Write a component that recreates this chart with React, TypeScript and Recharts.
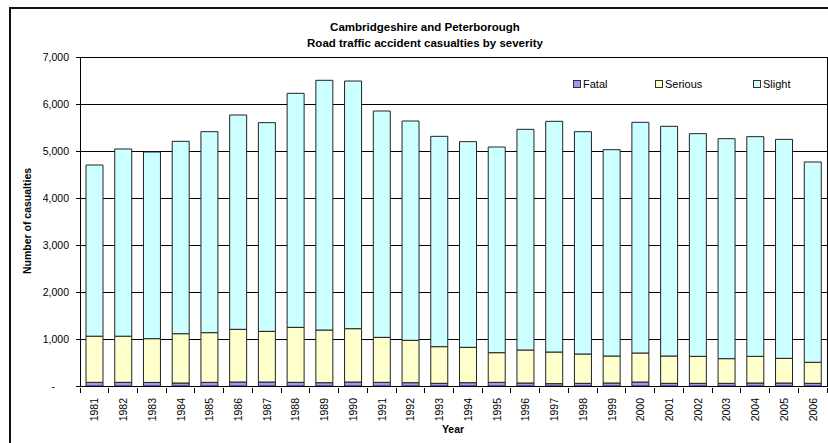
import React from 'react';
import {
  BarChart,
  Bar,
  XAxis,
  YAxis,
  CartesianGrid,
} from 'recharts';

const years = [
  '1981', '1982', '1983', '1984', '1985', '1986', '1987', '1988', '1989',
  '1990', '1991', '1992', '1993', '1994', '1995', '1996', '1997', '1998',
  '1999', '2000', '2001', '2002', '2003', '2004', '2005', '2006',
];

const fatal = [
  78, 78, 76, 64, 78, 85, 85, 78, 71, 85, 78, 71, 57, 71, 78, 64, 50, 57, 64,
  85, 57, 57, 57, 64, 64, 57,
];

const serious = [
  982, 982, 931, 1049, 1057, 1121, 1078, 1170, 1120, 1135, 957, 901, 780, 752,
  631, 702, 673, 624, 574, 617, 581, 574, 525, 567, 525, 447,
];

const slight = [
  3642, 3983, 3972, 4093, 4276, 4560, 4440, 4979, 5313, 5269, 4816, 4666, 4475,
  4376, 4376, 4695, 4908, 4730, 4390, 4908, 4887, 4738, 4680, 4674, 4659, 4262,
];

const yTicks = [0, 1000, 2000, 3000, 4000, 5000, 6000, 7000];

const seriesNames = ['Fatal', 'Serious', 'Slight'];
const seriesColors = ['#9999FF', '#FFFFCC', '#CCFFFF'];

const titleLines = [
  'Cambridgeshire and Peterborough',
  'Road traffic accident casualties by severity',
];

const rows = years.map((year, i) => ({
  year,
  Fatal: fatal[i],
  Serious: serious[i],
  Slight: slight[i],
}));

const FONT = "Arial, 'Liberation Sans', sans-serif";
const W = 828;
const H = 443;
const PLOT_LEFT = 80;
const PLOT_TOP = 57;
const PLOT_RIGHT = 827;
const PLOT_BOTTOM = 386;
const BAND = (PLOT_RIGHT - PLOT_LEFT) / years.length;

function YTick(props: any) {
  const { x, y, payload } = props;
  const v = payload.value as number;
  const label = v === 0 ? '-' : v.toLocaleString('en-US');
  return (
    <text
      x={v === 0 ? x - 14 : x}
      y={y}
      textAnchor="end"
      dominantBaseline="central"
      fontSize={10.5}
      fontFamily={FONT}
      fill="#000"
    >
      {label}
    </text>
  );
}

function XTick(props: any) {
  const { x, y, payload, index } = props;
  const left = x - BAND / 2;
  return (
    <g>
      <line x1={left} x2={left} y1={y} y2={y + 5} stroke="#000" shapeRendering="crispEdges" />
      {index === years.length - 1 && (
        <line
          x1={x + BAND / 2}
          x2={x + BAND / 2}
          y1={y}
          y2={y + 5}
          stroke="#000"
          shapeRendering="crispEdges"
        />
      )}
      <text
        x={x}
        y={y + 10}
        transform={`rotate(-90 ${x} ${y + 10})`}
        textAnchor="end"
        dominantBaseline="central"
        fontSize={10.5}
        fontFamily={FONT}
        fill="#000"
      >
        {payload.value}
      </text>
    </g>
  );
}

function LegendBox() {
  const widths = [82, 98, 70];
  return (
    <div
      style={{
        position: 'absolute',
        left: 573,
        top: 77,
        display: 'flex',
        fontFamily: FONT,
        fontSize: 11,
        lineHeight: '14px',
      }}
    >
      {seriesNames.map((name, i) => (
        <div
          key={name}
          style={{ width: widths[i], display: 'flex', alignItems: 'center' }}
        >
          <span
            style={{
              width: 6,
              height: 6,
              border: '1px solid #333',
              background: seriesColors[i],
              marginRight: 2,
            }}
          />
          <span>{name}</span>
        </div>
      ))}
    </div>
  );
}

export default function App() {
  return (
    <div
      style={{
        position: 'absolute',
        left: 0,
        top: 0,
        width: W,
        height: H,
        overflow: 'hidden',
        background: '#fff',
      }}
    >
      <div
        style={{
          position: 'absolute',
          left: 9,
          top: 7,
          width: 900,
          height: 500,
          border: '2px solid #111',
        }}
      />
      <div
        style={{
          position: 'absolute',
          left: 225,
          width: 400,
          top: 19,
          textAlign: 'center',
          fontFamily: FONT,
          fontWeight: 'bold',
          fontSize: 11.5,
          lineHeight: '16px',
        }}
      >
        {titleLines.map((t) => (
          <div key={t}>{t}</div>
        ))}
      </div>
      <div style={{ position: 'absolute', left: 0, top: 0 }}>
        <BarChart
          width={W}
          height={H}
          data={rows}
          margin={{ top: PLOT_TOP, right: W - PLOT_RIGHT, bottom: 0, left: 0 }}
          barSize={17}
        >
          <CartesianGrid vertical={false} stroke="#000" shapeRendering="crispEdges" />
          <XAxis
            dataKey="year"
            interval={0}
            height={H - PLOT_BOTTOM}
            tickSize={0}
            tickLine={false}
            axisLine={{ stroke: '#000', shapeRendering: 'crispEdges' }}
            tick={<XTick />}
            label={() => (
              <text
                x={453}
                y={429}
                textAnchor="middle"
                dominantBaseline="central"
                fontSize={10.5}
                fontWeight="bold"
                fontFamily={FONT}
              >
                Year
              </text>
            )}
          />
          <YAxis
            width={PLOT_LEFT}
            domain={[0, 7000]}
            ticks={yTicks}
            interval={0}
            tickSize={4}
            tickMargin={7}
            tickLine={{ stroke: '#000', shapeRendering: 'crispEdges' }}
            axisLine={{ stroke: '#000', shapeRendering: 'crispEdges' }}
            tick={<YTick />}
            label={() => (
              <text
                x={27}
                y={221}
                transform="rotate(-90 27 221)"
                textAnchor="middle"
                dominantBaseline="central"
                fontSize={10.5}
                fontWeight="bold"
                fontFamily={FONT}
              >
                Number of casualties
              </text>
            )}
          />
          {seriesNames.map((name, i) => (
            <Bar
              key={name}
              dataKey={name}
              stackId="a"
              fill={seriesColors[i]}
              stroke="#222"
              strokeWidth={1}
              isAnimationActive={false}
            />
          ))}
        </BarChart>
      </div>
      <LegendBox />
      <div
        style={{
          position: 'absolute',
          left: PLOT_LEFT,
          top: PLOT_TOP,
          width: PLOT_RIGHT - PLOT_LEFT,
          height: PLOT_BOTTOM - PLOT_TOP,
          borderTop: '1px solid #000',
          borderRight: '1px solid #000',
          pointerEvents: 'none',
        }}
      />
    </div>
  );
}
